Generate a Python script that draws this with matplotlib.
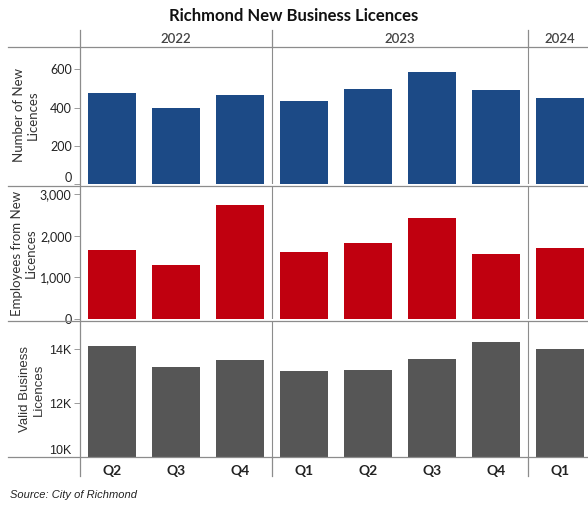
import matplotlib.pyplot as plt
from matplotlib.lines import Line2D
from matplotlib.transforms import blended_transform_factory
from matplotlib.ticker import FuncFormatter

# datos
quarters = ["Q2", "Q3", "Q4", "Q1", "Q2", "Q3", "Q4", "Q1"]
years = ["2022", "2023", "2024"]
new_licences = [475, 398, 468, 432, 495, 588, 490, 452]
employees = [1650, 1290, 2730, 1620, 1830, 2430, 1560, 1700]
valid_licences = [14100, 13320, 13600, 13200, 13230, 13630, 14270, 14010]

blue = "#1c4a86"
red = "#c0000f"
grey = "#565656"
linec = "#8c8c8c"

fig = plt.figure(figsize=(5.88, 5.08), dpi=100)
W, H = 588, 508

def fy(p):
    return 1 - p / H

left = 80 / W
ax1 = fig.add_axes([left, fy(184), 1 - left, fy(47) - fy(184)])
ax2 = fig.add_axes([left, fy(319), 1 - left, fy(187) - fy(319)])
ax3 = fig.add_axes([left, fy(457), 1 - left, fy(322) - fy(457)])

x = list(range(len(quarters)))
ax1.bar(x, new_licences, width=0.75, color=blue)
ax2.bar(x, employees, width=0.75, color=red)
ax3.bar(x, valid_licences, width=0.75, color=grey)

ax1.set_ylim(0, 717)
ax1.set_yticks([0, 200, 400, 600])
ax2.set_ylim(0, 3170)
ax2.set_yticks([0, 1000, 2000, 3000])
ax2.yaxis.set_major_formatter(FuncFormatter(lambda v, p: f"{int(v):,}"))
ax3.set_ylim(10000, 15000)
ax3.set_yticks([10000, 12000, 14000])
ax3.yaxis.set_major_formatter(FuncFormatter(lambda v, p: f"{int(v/1000)}K"))

for ax in (ax1, ax2, ax3):
    ax.set_xlim(-0.5, 7.44)
    for s in ax.spines.values():
        s.set_visible(False)
    ax.tick_params(axis="y", length=4, width=0.6, color=linec, pad=2, labelsize=9, labelcolor="#222222")
    ax.tick_params(axis="x", length=0)
    ax.set_facecolor("none")
    for sep in (2.5, 6.5):
        ax.axvline(sep, color=linec, lw=0.8)

for ax in (ax1, ax2):
    ax.set_xticks([])
    for t in ax.get_yticklabels():
        t.set_fontfamily("Lato")
for t in ax3.get_yticklabels():
    t.set_fontfamily("Liberation Sans")
# los ceros de abajo quedan encima de la línea
ax1.get_yticklabels()[0].set_verticalalignment("bottom")
ax3.get_yticklabels()[0].set_verticalalignment("bottom")

ax3.set_xticks(x)
ax3.set_xticklabels(quarters, fontfamily="Lato", fontsize=10, fontweight="bold", color="#222222")
ax3.tick_params(axis="x", pad=6)

ax1.set_ylabel("Number of New\nLicences", fontfamily="Lato", fontsize=9.5, color="#333333", labelpad=8)
ax2.set_ylabel("Employees from New\nLicences", fontfamily="Lato", fontsize=9.5, color="#333333", labelpad=2)
ax3.set_ylabel("Valid Business\nLicences", fontfamily="Liberation Sans", fontsize=9.5, color="#333333", labelpad=3)

# líneas de la rejilla
for p in (47, 185.5, 320.5, 457):
    fig.add_artist(Line2D([8 / W, 1], [fy(p), fy(p)], color=linec, lw=0.9))
fig.add_artist(Line2D([left, left], [fy(30), fy(476)], color=linec, lw=0.9))
tr = blended_transform_factory(ax3.transData, fig.transFigure)
for sep in (2.5, 6.5):
    fig.add_artist(Line2D([sep, sep], [fy(30), fy(47)], color=linec, lw=0.9, transform=tr))
    fig.add_artist(Line2D([sep, sep], [fy(457), fy(476)], color=linec, lw=0.9, transform=tr))

bounds = [-0.5, 2.5, 6.5, 7.44]
for i, yr in enumerate(years):
    cx = (bounds[i] + bounds[i + 1]) / 2
    if yr == "2024":
        cx = 7.0
    fig.text(cx, fy(39), yr, transform=tr, ha="center", va="center",
             fontfamily="Lato", fontsize=9.5, fontweight="semibold", color="#444444")

fig.text(0.5, fy(16), "Richmond New Business Licences", ha="center", va="center",
         fontfamily="Lato", fontsize=12, fontweight="bold", color="#111111")
fig.text(10 / W, fy(495), "Source: City of Richmond", ha="left", va="center",
         fontfamily="Liberation Sans", fontsize=8, fontstyle="italic", color="#222222")

fig.savefig("out.png", dpi=100)
